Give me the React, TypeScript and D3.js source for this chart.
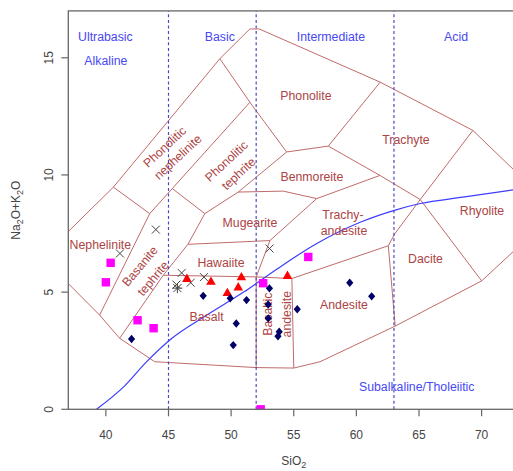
import React from "react";
import * as d3 from "d3";

// ---------- data ----------
const xTicks = [40, 45, 50, 55, 60, 65, 70];
const yTicks = [0, 5, 10, 15];
const silicaDivisions = [45, 52, 63];

type P = [number, number];

// TAS (Cox et al.) field boundaries, [SiO2, Na2O+K2O]
const outerBoundary: P[] = [
  [36, 5.9], [39.5, 4.02], [41.1, 3.03], [43.9, 2.03], [52.0, 1.78], [55.0, 1.76],
  [57.1, 2.03], [63.1, 3.55], [70.0, 5.48], [76.0, 8.45], [69.3, 11.9], [61.9, 13.96],
  [52.24, 16.23], [51.5, 16.23], [49.1, 14.96], [40.6, 9.48], [36, 7.06],
];
const fieldBoundaries: P[][] = [
  [[40.6, 9.48], [43.5, 8.35], [39.5, 4.02]],
  [[43.5, 8.35], [51.5, 13.1]],
  [[49.1, 14.96], [51.5, 13.1], [54.43, 10.98]],
  [[45.3, 9.42], [47.9, 8.35]],
  [[41.1, 3.03], [44.58, 5.72], [46.55, 7.04], [47.9, 8.35]],
  [[47.9, 8.35], [50.57, 9.27], [54.43, 10.98]],
  [[50.57, 9.27], [54.16, 9.31], [56.83, 8.99], [61.88, 9.98]],
  [[54.43, 10.98], [57.76, 11.23], [61.9, 13.96]],
  [[57.76, 11.23], [61.88, 9.98], [65.1, 8.95], [69.3, 11.9]],
  [[65.1, 8.95], [70.0, 5.48]],
  [[65.1, 8.95], [63.08, 7.5], [62.55, 6.98], [63.1, 3.55]],
  [[44.58, 5.72], [52.0, 5.65], [54.85, 5.58], [62.55, 6.98]],
  [[46.55, 7.04], [53.1, 7.2], [56.83, 8.99]],
  [[53.1, 7.2], [52.0, 5.65], [52.0, 1.78]],
  [[54.85, 5.58], [55.0, 1.76]],
];

// Alkaline / subalkaline divide (Irvine & Baragar)
const alkalineDivide: P[] = [
  [39.25, 0], [41.5, 1], [43.2, 2], [45.2, 3], [48.0, 4], [51.0, 5], [53.7, 6],
  [56.6, 7], [60.4, 8], [63.1, 8.5], [65.1, 8.78], [68.5, 9.05], [73, 9.4],
];

// samples
const navyDiamonds: P[] = [
  [42.05, 3.0], [47.77, 4.84], [49.93, 4.74], [51.23, 4.66], [50.41, 3.66], [50.17, 2.74],
  [53.06, 5.16], [52.96, 4.47], [52.96, 3.88], [53.84, 3.31], [53.74, 3.12], [55.28, 4.27],
  [59.47, 5.4], [61.22, 4.82],
];
const redTriangles: P[] = [
  [46.47, 5.57], [48.39, 5.45], [50.82, 5.64], [50.57, 5.21], [49.7, 4.97], [54.5, 5.7],
];
const magentaSquares: P[] = [
  [40.38, 6.25], [40.0, 5.42], [42.53, 3.8], [43.81, 3.46], [52.56, 5.38], [56.16, 6.5], [52.36, 0.0],
];
const greyCrosses: P[] = [
  [41.12, 6.65], [43.99, 7.67], [46.05, 5.82], [46.77, 5.4], [47.83, 5.64], [53.07, 6.86], [45.63, 5.32],
];
const greyStars: P[] = [[45.71, 5.17]];

// annotations
const fieldLabels: { t: string; x: number; y: number; r?: number }[] = [
  { t: "Phonolite", x: 55.97, y: 13.39 },
  { t: "Trachyte", x: 63.96, y: 11.47 },
  { t: "Benmoreite", x: 56.45, y: 9.91 },
  { t: "Trachy-", x: 58.93, y: 8.28 },
  { t: "andesite", x: 59.01, y: 7.62 },
  { t: "Rhyolite", x: 70.03, y: 8.47 },
  { t: "Dacite", x: 65.52, y: 6.43 },
  { t: "Andesite", x: 59.01, y: 4.44 },
  { t: "Basaltic", x: 52.94, y: 4.06, r: -90 },
  { t: "andesite", x: 54.43, y: 4.06, r: -90 },
  { t: "Basalt", x: 48.04, y: 3.95 },
  { t: "Hawaiite", x: 49.19, y: 6.25 },
  { t: "Mugearite", x: 51.5, y: 7.93 },
  { t: "Nephelinite", x: 39.56, y: 7.0 },
  { t: "Basanite", x: 42.72, y: 6.1, r: -50 },
  { t: "tephrite", x: 43.78, y: 5.58, r: -50 },
  { t: "Phonolitic", x: 44.71, y: 11.19, r: -43 },
  { t: "nephelinite", x: 45.77, y: 10.76, r: -43 },
  { t: "Phonolitic", x: 49.64, y: 10.58, r: -43 },
  { t: "tephrite", x: 50.62, y: 10.05, r: -43 },
];
const groupLabels: { t: string; x: number; y: number }[] = [
  { t: "Ultrabasic", x: 39.96, y: 15.9 },
  { t: "Alkaline", x: 40.0, y: 14.88 },
  { t: "Basic", x: 49.1, y: 15.9 },
  { t: "Intermediate", x: 57.97, y: 15.9 },
  { t: "Acid", x: 67.96, y: 15.9 },
  { t: "Subalkaline/Tholeiitic", x: 64.82, y: 0.96 },
];

// ---------- chart ----------
const W = 513;
const H = 471;
const FONT = "'Liberation Sans', Arial, Helvetica, sans-serif";

export default function App() {
  const x = d3.scaleLinear().domain([37, 73]).range([68.3, 519.2]);
  const y = d3.scaleLinear().domain([0, 17]).range([409.3, 10.9]);
  const line = d3.line<P>().x((d) => x(d[0])).y((d) => y(d[1]));
  const curve = d3.line<P>().x((d) => x(d[0])).y((d) => y(d[1])).curve(d3.curveMonotoneX);

  const left = x(37), right = x(73), top = y(17), bottom = y(0);
  const lineCol = "#c06a6a";
  const labCol = "#ad4343";
  const blueCol = "#4848f4";

  return (
    <svg
      width={W}
      height={H}
      style={{ position: "absolute", left: 0, top: 0, display: "block", background: "#fff" }}
      fontFamily={FONT}
    >
      <defs>
        <clipPath id="plot">
          <rect x={left} y={top} width={right - left} height={bottom - top} />
        </clipPath>
      </defs>

      <g clipPath="url(#plot)">
        <path d={line(outerBoundary) || ""} fill="none" stroke={lineCol} strokeWidth={1} />
        {fieldBoundaries.map((b, i) => (
          <path key={i} d={line(b) || ""} fill="none" stroke={lineCol} strokeWidth={1} />
        ))}
        {silicaDivisions.map((s) => (
          <line
            key={s}
            x1={x(s)}
            x2={x(s)}
            y1={y(0)}
            y2={y(17)}
            stroke="#4a4ac0"
            strokeWidth={1.2}
            strokeDasharray="3,2.6"
          />
        ))}
        <path d={curve(alkalineDivide) || ""} fill="none" stroke="#3d3dff" strokeWidth={1.2} />

        {fieldLabels.map((l, i) => (
          <text
            key={i}
            transform={`translate(${x(l.x)},${y(l.y)}) rotate(${l.r || 0})`}
            textAnchor="middle"
            dominantBaseline="central"
            fontSize={12.3}
            fill={labCol}
          >
            {l.t}
          </text>
        ))}
        {groupLabels.map((l, i) => (
          <text
            key={i}
            x={x(l.x)}
            y={y(l.y)}
            textAnchor="middle"
            dominantBaseline="central"
            fontSize={12.3}
            fill={blueCol}
          >
            {l.t}
          </text>
        ))}

        {greyCrosses.map((d, i) => (
          <path
            key={"c" + i}
            transform={`translate(${x(d[0])},${y(d[1])})`}
            d="M-4,-4L4,4M-4,4L4,-4"
            stroke="#444"
            strokeWidth={1}
            fill="none"
          />
        ))}
        {greyStars.map((d, i) => (
          <path
            key={"s" + i}
            transform={`translate(${x(d[0])},${y(d[1])})`}
            d="M-4,-4L4,4M-4,4L4,-4M-5,0L5,0M0,-5L0,5"
            stroke="#444"
            strokeWidth={1}
            fill="none"
          />
        ))}
        {magentaSquares.map((d, i) => (
          <rect key={"q" + i} x={x(d[0]) - 4.2} y={y(d[1]) - 4.2} width={8.4} height={8.4} fill="#ff00ff" />
        ))}
        {redTriangles.map((d, i) => (
          <path
            key={"t" + i}
            transform={`translate(${x(d[0])},${y(d[1])})`}
            d="M0,-5.2L4.8,3.2L-4.8,3.2Z"
            fill="#ff0000"
          />
        ))}
        {navyDiamonds.map((d, i) => (
          <path
            key={"d" + i}
            transform={`translate(${x(d[0])},${y(d[1])})`}
            d="M0,-4.2L3.6,0L0,4.2L-3.6,0Z"
            fill="#000066"
          />
        ))}
      </g>

      {/* frame */}
      <rect x={left} y={top} width={right - left} height={bottom - top} fill="none" stroke="#666" strokeWidth={1.3} />

      {/* x axis */}
      {xTicks.map((t) => (
        <g key={t}>
          <line x1={x(t)} x2={x(t)} y1={bottom} y2={bottom + 7} stroke="#666" strokeWidth={1.2} />
          <text x={x(t)} y={bottom + 30} textAnchor="middle" fontSize={12} fill="#444">
            {t}
          </text>
        </g>
      ))}
      {/* y axis */}
      {yTicks.map((t) => (
        <g key={t}>
          <line x1={left - 7} x2={left} y1={y(t)} y2={y(t)} stroke="#666" strokeWidth={1.2} />
          <text
            transform={`translate(${left - 15},${y(t)}) rotate(-90)`}
            textAnchor="middle"
            fontSize={12}
            fill="#444"
          >
            {t}
          </text>
        </g>
      ))}

      <text x={(left + right) / 2} y={465} textAnchor="middle" fontSize={12} fill="#444">
        SiO
        <tspan dy={2.5} fontSize={9}>2</tspan>
      </text>
      <text
        transform={`translate(20,${(top + bottom) / 2}) rotate(-90)`}
        textAnchor="middle"
        fontSize={12}
        fill="#444"
      >
        Na
        <tspan dy={3} fontSize={9}>2</tspan>
        <tspan dy={-3}>O+K</tspan>
        <tspan dy={3} fontSize={9}>2</tspan>
        <tspan dy={-3}>O</tspan>
      </text>
    </svg>
  );
}
